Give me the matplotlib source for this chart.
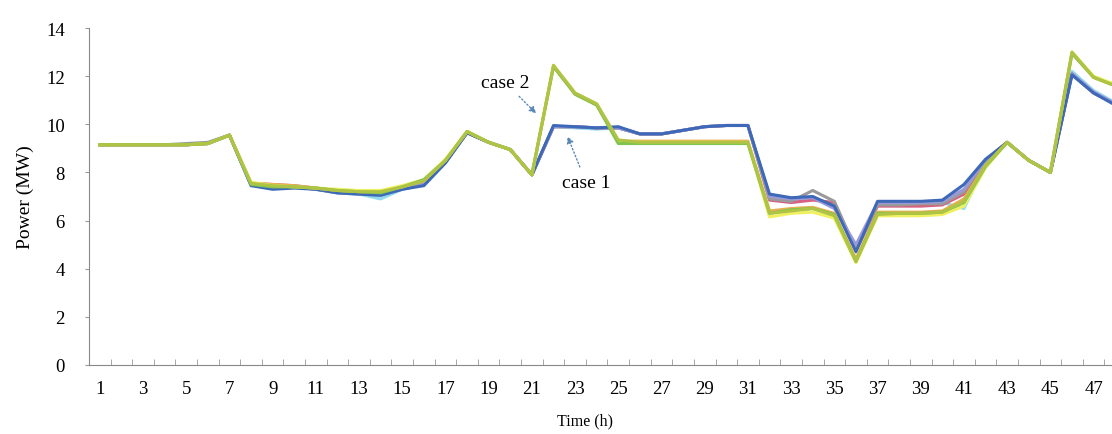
import numpy as np
import matplotlib
matplotlib.use('Agg')
import matplotlib.pyplot as plt

plt.rcParams['font.family'] = ['Liberation Serif', 'DejaVu Serif']

hours = np.arange(1, 49)
x_labels = [str(h) for h in range(1, 49, 2)]

# case 1 group
c1_blue = [9.15, 9.15, 9.15, 9.15, 9.15, 9.2, 9.55, 7.45, 7.3, 7.35, 7.3, 7.15,
           7.1, 7.05, 7.3, 7.45, 8.4, 9.65, 9.25, 8.95, 7.9, 9.95, 9.9, 9.85,
           9.9, 9.6, 9.6, 9.75, 9.9, 9.95, 9.95, 7.1, 6.95, 7.0, 6.6, 4.7,
           6.8, 6.8, 6.8, 6.85, 7.5, 8.55, 9.25, 8.5, 8.0, 12.05, 11.3, 10.8]
c1_cyan = [9.15, 9.15, 9.15, 9.15, 9.15, 9.2, 9.55, 7.5, 7.35, 7.4, 7.3, 7.15,
           7.1, 6.9, 7.3, 7.5, 8.4, 9.65, 9.25, 8.95, 7.9, 9.9, 9.85, 9.8,
           9.85, 9.6, 9.6, 9.75, 9.9, 9.95, 9.95, 6.95, 6.85, 6.9, 6.6, 4.9,
           6.7, 6.7, 6.7, 6.75, 6.5, 8.4, 9.25, 8.5, 8.0, 12.2, 11.4, 10.9]
c1_grey = [9.15, 9.15, 9.15, 9.15, 9.2, 9.25, 9.55, 7.55, 7.45, 7.4, 7.3, 7.2,
           7.15, 7.1, 7.35, 7.55, 8.45, 9.65, 9.25, 8.95, 7.9, 9.9, 9.9, 9.85,
           9.85, 9.6, 9.6, 9.75, 9.9, 9.95, 9.95, 6.9, 6.8, 7.25, 6.8, 4.8,
           6.65, 6.65, 6.7, 6.7, 7.2, 8.5, 9.25, 8.5, 8.0, 12.1, 11.3, 10.85]
c1_red = [9.15, 9.15, 9.15, 9.15, 9.15, 9.2, 9.55, 7.55, 7.5, 7.45, 7.35, 7.25,
          7.2, 7.15, 7.4, 7.6, 8.45, 9.65, 9.25, 8.95, 7.9, 9.9, 9.9, 9.85,
          9.85, 9.6, 9.6, 9.75, 9.9, 9.95, 9.95, 6.85, 6.75, 6.85, 6.75, 4.75,
          6.6, 6.6, 6.6, 6.65, 7.1, 8.45, 9.25, 8.5, 8.0, 12.1, 11.3, 10.85]
c1_lav = [9.15, 9.15, 9.15, 9.15, 9.15, 9.2, 9.55, 7.5, 7.4, 7.4, 7.3, 7.15,
          7.1, 7.05, 7.3, 7.5, 8.4, 9.65, 9.25, 8.95, 7.9, 9.9, 9.9, 9.85,
          9.85, 9.6, 9.6, 9.75, 9.9, 9.95, 9.95, 7.0, 6.9, 6.95, 6.5, 5.0,
          6.75, 6.75, 6.75, 6.8, 7.3, 8.5, 9.25, 8.5, 8.0, 12.1, 11.35, 10.85]

# case 2 group
c2_orange = [9.15, 9.15, 9.15, 9.15, 9.15, 9.2, 9.55, 7.55, 7.5, 7.45, 7.35, 7.25,
             7.2, 7.2, 7.4, 7.65, 8.5, 9.7, 9.25, 8.95, 7.9, 12.4, 11.25, 10.8,
             9.3, 9.3, 9.3, 9.3, 9.3, 9.3, 9.3, 6.4, 6.5, 6.55, 6.3, 4.4,
             6.35, 6.35, 6.35, 6.4, 6.9, 8.3, 9.25, 8.5, 8.0, 12.95, 11.95, 11.6]
c2_green = [9.15, 9.15, 9.15, 9.15, 9.15, 9.2, 9.55, 7.5, 7.4, 7.4, 7.35, 7.25,
            7.2, 7.15, 7.4, 7.7, 8.5, 9.7, 9.25, 8.95, 7.9, 12.4, 11.25, 10.8,
            9.2, 9.2, 9.2, 9.2, 9.2, 9.2, 9.2, 6.3, 6.45, 6.5, 6.25, 4.3,
            6.3, 6.3, 6.3, 6.35, 6.75, 8.25, 9.25, 8.5, 8.0, 12.95, 11.95, 11.6]
c2_yellow = [9.15, 9.15, 9.15, 9.15, 9.15, 9.2, 9.55, 7.6, 7.45, 7.4, 7.35, 7.3,
             7.25, 7.25, 7.45, 7.7, 8.55, 9.7, 9.25, 8.95, 7.9, 12.45, 11.3, 10.85,
             9.25, 9.25, 9.25, 9.25, 9.25, 9.25, 9.25, 6.15, 6.3, 6.35, 6.1, 4.25,
             6.2, 6.2, 6.2, 6.25, 6.6, 8.2, 9.25, 8.5, 8.0, 13.0, 12.0, 11.65]
c2_yg = [9.15, 9.15, 9.15, 9.15, 9.15, 9.2, 9.55, 7.55, 7.45, 7.4, 7.35, 7.25,
         7.2, 7.2, 7.4, 7.65, 8.5, 9.7, 9.25, 8.95, 7.9, 12.45, 11.3, 10.85,
         9.35, 9.25, 9.25, 9.25, 9.25, 9.25, 9.25, 6.3, 6.4, 6.5, 6.2, 4.3,
         6.25, 6.3, 6.3, 6.35, 6.8, 8.3, 9.25, 8.5, 8.0, 13.0, 11.95, 11.6]

series = [
    (c1_cyan, '#8fdcf0'),
    (c1_red, '#d86080'),
    (c1_grey, '#9a9a9a'),
    (c1_lav, '#9a9ad8'),
    (c1_blue, '#3e68b8'),
    (c2_orange, '#e8b050'),
    (c2_yellow, '#f0f060'),
    (c2_green, '#80c450'),
    (c2_yg, '#afc444'),
]

fig = plt.figure(figsize=(11.12, 4.35), dpi=100)
ax = fig.add_axes([89 / 1112, 69 / 435, (1126 - 89) / 1112, (406 - 69) / 435])

for vals, col in series:
    ax.plot(hours, vals, color=col, lw=2.2, solid_joinstyle='round')

ax.set_xlim(0.5, 48.5)
ax.set_ylim(0, 14)
ax.set_yticks(range(0, 15, 2))
ax.set_xticks(range(1, 49, 2))
ax.set_xticklabels(x_labels)
ax.set_xticks(np.arange(1.5, 48.5, 1), minor=True)
ax.tick_params(axis='x', which='major', length=0, pad=11, labelsize=13.5)
ax.tick_params(axis='x', which='minor', direction='in', length=4, color='#999999')
ax.tick_params(axis='y', length=3, color='#999999', pad=14.5, labelsize=13.5)

for s in ['top', 'right']:
    ax.spines[s].set_visible(False)
for s in ['left', 'bottom']:
    ax.spines[s].set_color('#888888')

ax.set_ylabel('Power (MW)', fontsize=14)
ax.yaxis.set_label_coords(-0.053, 0.5)
ax.set_xlabel('Time (h)', fontsize=11.5)
ax.xaxis.set_label_coords(0.478, -0.142)

ax.annotate('case 2', xy=(21.2, 10.45), xytext=(19.75, 11.75), fontsize=14,
            ha='center', va='center',
            arrowprops=dict(arrowstyle='-|>', color='#5a86b8', lw=1, ls=':',
                            shrinkA=3, shrinkB=0, mutation_scale=10))
ax.annotate('case 1', xy=(22.65, 9.5), xytext=(23.5, 7.6), fontsize=14,
            ha='center', va='center',
            arrowprops=dict(arrowstyle='-|>', color='#5a86b8', lw=1, ls=':',
                            shrinkA=3, shrinkB=0, mutation_scale=10))

plt.savefig('out.png', dpi=100)
